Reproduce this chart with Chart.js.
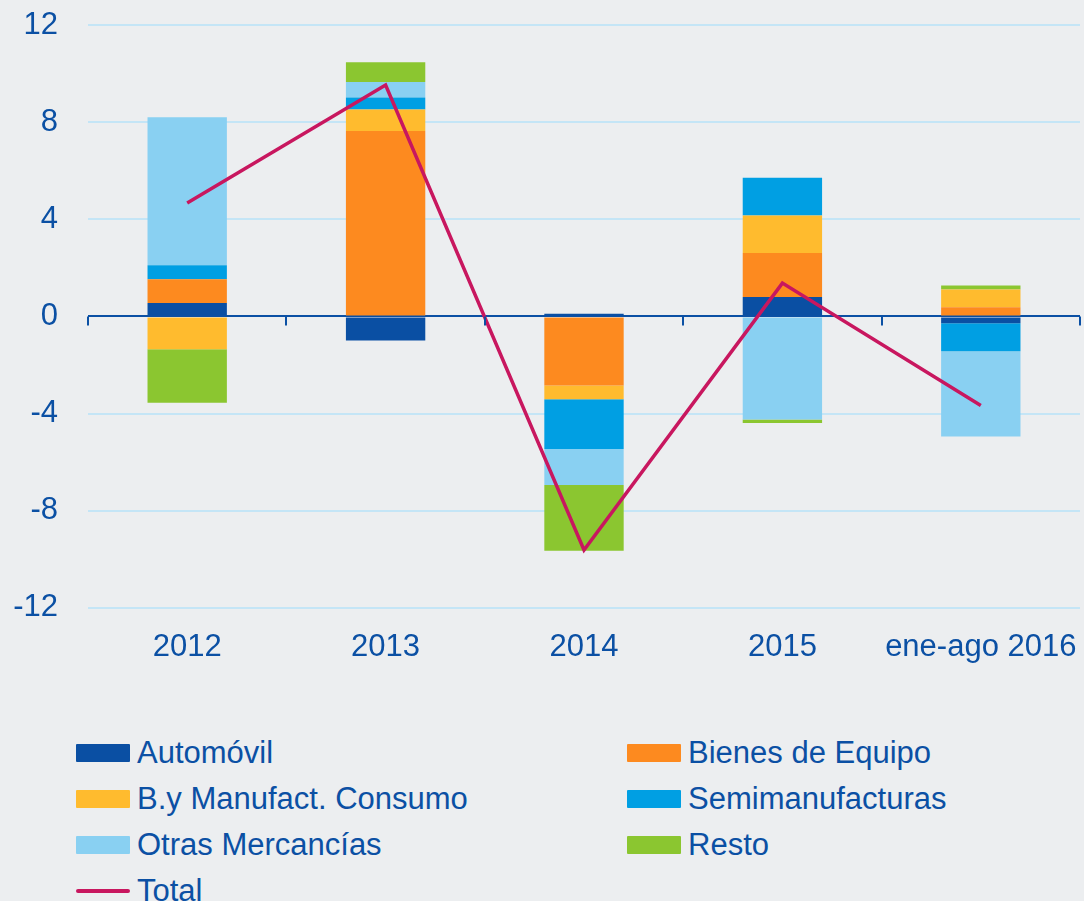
<!DOCTYPE html>
<html>
<head>
<meta charset="utf-8">
<script src="https://cdn.jsdelivr.net/npm/chart.js@4"></script>
<style>
  html, body { margin: 0; padding: 0; background: #eceef0; }
  #wrap { position: relative; width: 1084px; height: 901px; overflow: hidden; }
  #chart-box { position: absolute; left: 0; top: 0; width: 1084px; height: 679px; }
  #legend {
    position: absolute; left: 76px; top: 730px;
    display: grid; grid-template-columns: 551px 400px; grid-auto-rows: 46px;
    font-family: "Liberation Sans", Arial, sans-serif; font-size: 31px; color: #0b50a4;
  }
  .item { display: flex; align-items: center; white-space: nowrap; }
  .swatch { width: 54px; height: 18px; margin-right: 7px; border-radius: 1px; }
  .swatch.line { height: 4px; border-radius: 2px; }
</style>
</head>
<body>
<div id="wrap">
  <div id="chart-box"><canvas id="chart"></canvas></div>
  <div id="legend"></div>
</div>
<script>
// Data
const categories = ['2012', '2013', '2014', '2015', 'ene-ago 2016'];
const automovil = [0.55, -0.99, 0.11, 0.80, -0.28];
const bienesEquipo = [0.98, 7.63, -2.85, 1.81, 0.38];
const consumo = [-1.35, 0.89, -0.56, 1.55, 0.73];
const semimanufacturas = [0.58, 0.49, -2.05, 1.55, -1.15];
const otrasMercancias = [6.09, 0.64, -1.48, -4.25, -3.52];
const resto = [-2.21, 0.82, -2.71, -0.14, 0.16];
const total = [4.67, 9.53, -9.62, 1.37, -3.67];

const textColor = '#0b50a4';
const gridColor = '#c4e5f6';
const font = { family: '"Liberation Sans", Arial, sans-serif', size: 31 };

function bar(label, data, color) {
    return { type: 'bar', label: label, data: data, backgroundColor: color, stack: 'bars', order: 1 };
}

// Tick marks on the zero line between categories
const zeroTicks = {
    id: 'zeroTicks',
    afterDatasetsDraw(chart) {
        const x = chart.scales.x;
        const y = chart.scales.y;
        const y0 = y.getPixelForValue(0);
        const c = chart.ctx;
        c.save();
        c.strokeStyle = textColor;
        c.lineWidth = 2;
        for (let i = 0; i <= categories.length; i++) {
            const px = Math.round(x.getPixelForValue(i - 0.5));
            c.beginPath();
            c.moveTo(px, y0);
            c.lineTo(px, y0 + 9);
            c.stroke();
        }
        c.restore();
    }
};

const chart = new Chart(document.getElementById('chart'), {
    data: {
        labels: categories,
        datasets: [
            bar('Automóvil', automovil, '#0a4fa3'),
            bar('Bienes de Equipo', bienesEquipo, '#fd8a1f'),
            bar('B.y Manufact. Consumo', consumo, '#ffbb2e'),
            bar('Semimanufacturas', semimanufacturas, '#009fe3'),
            bar('Otras Mercancías', otrasMercancias, '#89d0f2'),
            bar('Resto', resto, '#8bc630'),
            {
                type: 'line', label: 'Total', data: total, stack: 'total', order: 0,
                borderColor: '#c8175f', borderWidth: 3.5, pointRadius: 0, tension: 0, fill: false
            }
        ]
    },
    options: {
        responsive: true,
        maintainAspectRatio: false,
        animation: false,
        datasets: { bar: { categoryPercentage: 1, barPercentage: 0.4 } },
        layout: { padding: { top: 25, right: 4, left: 0, bottom: 0 } },
        plugins: { legend: { display: false }, tooltip: { enabled: false } },
        scales: {
            x: {
                stacked: true,
                grid: { display: false },
                border: { display: false },
                ticks: { color: textColor, font: font, padding: 13, maxRotation: 0 },
                afterFit: (scale) => { scale.paddingRight = 0; scale.paddingLeft = 0; }
            },
            y: {
                stacked: true,
                min: -12,
                max: 12,
                border: { display: false },
                grid: {
                    drawTicks: false,
                    lineWidth: 2,
                    color: (ctx) => ctx.tick && ctx.tick.value === 0 ? textColor : gridColor
                },
                ticks: { stepSize: 4, color: textColor, font: font, padding: 30 },
                afterFit: (scale) => { scale.width = 88; scale.paddingTop = 0; scale.paddingBottom = 0; }
            }
        }
    },
    plugins: [zeroTicks]
});

// Legend in two columns
const legendEl = document.getElementById('legend');
chart.data.datasets.forEach((ds) => {
    const item = document.createElement('div');
    item.className = 'item';
    const sw = document.createElement('span');
    sw.className = ds.type === 'line' ? 'swatch line' : 'swatch';
    sw.style.background = ds.type === 'line' ? ds.borderColor : ds.backgroundColor;
    const txt = document.createElement('span');
    txt.textContent = ds.label;
    item.appendChild(sw);
    item.appendChild(txt);
    legendEl.appendChild(item);
});
</script>
</body>
</html>
